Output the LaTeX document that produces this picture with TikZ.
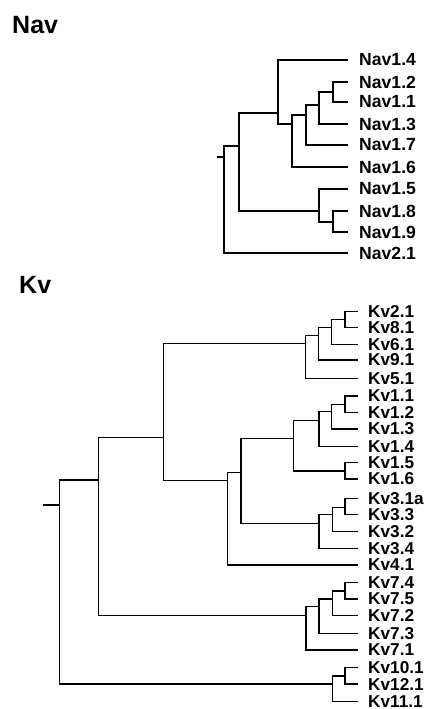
\documentclass[tikz,border=0pt]{standalone}
\usepackage{fontspec}
\setmainfont{Liberation Sans}
\begin{document}
\begin{tikzpicture}[x=1pt,y=-1pt,
  branch/.style={line width=1.5pt},
  navleaf/.style={anchor=west,inner xsep=11pt,inner ysep=0pt,font=\fontsize{17.6}{18}\selectfont\bfseries},
  kvleaf/.style={anchor=west,inner xsep=10pt,inner ysep=0pt,font=\fontsize{17.2}{18}\selectfont\bfseries},
  title/.style={anchor=base west,inner sep=0pt,font=\fontsize{25}{28}\selectfont\bfseries}]
\useasboundingbox (0,0) rectangle (431,709);
% titles
\node[title] (tnav) at (12,34) {Nav};
\node[title] (tkv) at (19,293) {Kv};
% ---------------- Nav tree ----------------
\node[navleaf] (n14) at (348,60) {Nav1.4};
\node[navleaf] (n12) at (348,82) {Nav1.2};
\node[navleaf] (n11) at (348,102) {Nav1.1};
\node[navleaf] (n13) at (348,124) {Nav1.3};
\node[navleaf] (n17) at (348,145) {Nav1.7};
\node[navleaf] (n16) at (348,167) {Nav1.6};
\node[navleaf] (n15) at (348,189) {Nav1.5};
\node[navleaf] (n18) at (348,211) {Nav1.8};
\node[navleaf] (n19) at (348,232) {Nav1.9};
\node[navleaf] (n21) at (348,253) {Nav2.1};
\coordinate (nE) at (333,92);
\coordinate (nD) at (319,105);
\coordinate (nC) at (306,115);
\coordinate (nB) at (292,124);
\coordinate (nA) at (278,113);
\coordinate (nH) at (333,222);
\coordinate (nG) at (319,211);
\coordinate (nF) at (239,146);
\coordinate (nR) at (224,157);
\coordinate (nS) at (217,157);
\draw[branch] (nE) |- (n12.west);
\draw[branch] (nE) |- (n11.west);
\draw[branch] (nD) |- (nE);
\draw[branch] (nD) |- (n13.west);
\draw[branch] (nC) |- (nD);
\draw[branch] (nC) |- (n17.west);
\draw[branch] (nB) |- (nC);
\draw[branch] (nB) |- (n16.west);
\draw[branch] (nA) |- (n14.west);
\draw[branch] (nA) |- (nB);
\draw[branch] (nH) |- (n18.west);
\draw[branch] (nH) |- (n19.west);
\draw[branch] (nG) |- (n15.west);
\draw[branch] (nG) |- (nH);
\draw[branch] (nF) |- (nA);
\draw[branch] (nF) |- (nG);
\draw[branch] (nR) |- (nF);
\draw[branch] (nR) |- (n21.west);
\draw[branch] (nS) -- (nR);
% ---------------- Kv tree ----------------
\node[kvleaf] (k21) at (358,311.7) {Kv2.1};
\node[kvleaf] (k81) at (358,327.7) {Kv8.1};
\node[kvleaf] (k61) at (358,344.3) {Kv6.1};
\node[kvleaf] (k91) at (358,360) {Kv9.1};
\node[kvleaf] (k51) at (358,378.3) {Kv5.1};
\node[kvleaf] (k1a) at (358,396) {Kv1.1};
\node[kvleaf] (k1b) at (358,412.3) {Kv1.2};
\node[kvleaf] (k1c) at (358,429) {Kv1.3};
\node[kvleaf] (k1d) at (358,446.7) {Kv1.4};
\node[kvleaf] (k1e) at (358,462.7) {Kv1.5};
\node[kvleaf] (k1f) at (358,479) {Kv1.6};
\node[kvleaf] (k3a) at (358,498.3) {Kv3.1a};
\node[kvleaf] (k3c) at (358,514.3) {Kv3.3};
\node[kvleaf] (k3b) at (358,531.7) {Kv3.2};
\node[kvleaf] (k3d) at (358,548.3) {Kv3.4};
\node[kvleaf] (k41) at (358,565) {Kv4.1};
\node[kvleaf] (k7d) at (358,582.7) {Kv7.4};
\node[kvleaf] (k7e) at (358,599) {Kv7.5};
\node[kvleaf] (k7b) at (358,615.7) {Kv7.2};
\node[kvleaf] (k7c) at (358,633.3) {Kv7.3};
\node[kvleaf] (k7a) at (358,650) {Kv7.1};
\node[kvleaf] (k101) at (358,667.3) {Kv10.1};
\node[kvleaf] (k121) at (358,684) {Kv12.1};
\node[kvleaf] (k111) at (358,701.7) {Kv11.1};
% internal nodes
\coordinate (q28) at (345,319.5);
\coordinate (q286) at (331.7,327.7);
\coordinate (q2869) at (318.3,335.7);
\coordinate (q28695) at (305.7,343.3);
\coordinate (q11) at (345,404.3);
\coordinate (q113) at (331.7,411.7);
\coordinate (q1134) at (319,420.7);
\coordinate (q156) at (345,471);
\coordinate (q1) at (293.3,438.3);
\coordinate (q33) at (345,507.3);
\coordinate (q332) at (332.3,514.3);
\coordinate (q3) at (319,523.3);
\coordinate (q13) at (241,472.3);
\coordinate (q134) at (227.7,480.7);
\coordinate (qA) at (163.3,437.3);
\coordinate (q74) at (345,591);
\coordinate (q742) at (332.3,599);
\coordinate (q7423) at (319,606.7);
\coordinate (q7) at (306,615.7);
\coordinate (qB) at (98.3,480);
\coordinate (q1012) at (345,676);
\coordinate (q10) at (332.3,684);
\coordinate (qR) at (59.3,505);
\coordinate (qS) at (43.3,505);
% connectors
\draw[branch] (q28) |- (k21.west);
\draw[branch] (q28) |- (k81.west);
\draw[branch] (q286) |- (q28);
\draw[branch] (q286) |- (k61.west);
\draw[branch] (q2869) |- (q286);
\draw[branch] (q2869) |- (k91.west);
\draw[branch] (q28695) |- (q2869);
\draw[branch] (q28695) |- (k51.west);
\draw[branch] (q11) |- (k1a.west);
\draw[branch] (q11) |- (k1b.west);
\draw[branch] (q113) |- (q11);
\draw[branch] (q113) |- (k1c.west);
\draw[branch] (q1134) |- (q113);
\draw[branch] (q1134) |- (k1d.west);
\draw[branch] (q156) |- (k1e.west);
\draw[branch] (q156) |- (k1f.west);
\draw[branch] (q1) |- (q1134);
\draw[branch] (q1) |- (q156);
\draw[branch] (q33) |- (k3a.west);
\draw[branch] (q33) |- (k3c.west);
\draw[branch] (q332) |- (q33);
\draw[branch] (q332) |- (k3b.west);
\draw[branch] (q3) |- (q332);
\draw[branch] (q3) |- (k3d.west);
\draw[branch] (q13) |- (q1);
\draw[branch] (q13) |- (q3);
\draw[branch] (q134) |- (q13);
\draw[branch] (q134) |- (k41.west);
\draw[branch] (qA) |- (q28695);
\draw[branch] (qA) |- (q134);
\draw[branch] (q74) |- (k7d.west);
\draw[branch] (q74) |- (k7e.west);
\draw[branch] (q742) |- (q74);
\draw[branch] (q742) |- (k7b.west);
\draw[branch] (q7423) |- (q742);
\draw[branch] (q7423) |- (k7c.west);
\draw[branch] (q7) |- (q7423);
\draw[branch] (q7) |- (k7a.west);
\draw[branch] (qB) |- (qA);
\draw[branch] (qB) |- (q7);
\draw[branch] (q1012) |- (k101.west);
\draw[branch] (q1012) |- (k121.west);
\draw[branch] (q10) |- (q1012);
\draw[branch] (q10) |- (k111.west);
\draw[branch] (qR) |- (qB);
\draw[branch] (qR) |- (q10);
\draw[branch] (qS) -- (qR);
\end{tikzpicture}
\end{document}
